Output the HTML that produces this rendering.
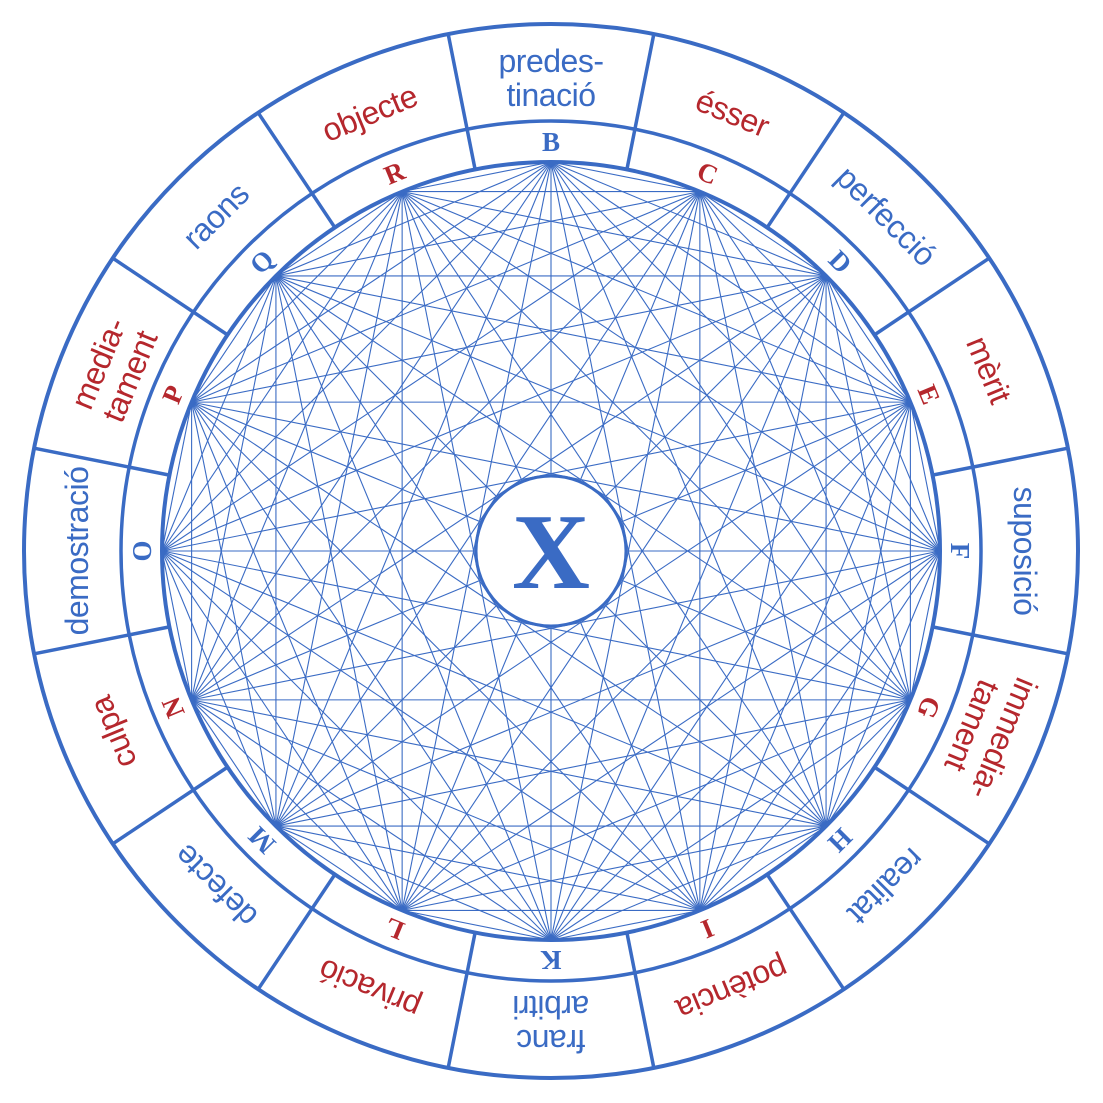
<!DOCTYPE html>
<html><head><meta charset="utf-8"><style>
html,body{margin:0;padding:0;background:#fff;}
svg{display:block}
.w{font-family:"Liberation Sans",sans-serif;font-size:32px;text-anchor:middle;letter-spacing:-0.5px}
.l{font-family:"Liberation Serif",serif;font-weight:bold;font-size:27px;text-anchor:middle}
.b{fill:#3a6bc4}.r{fill:#b5272d}
</style></head><body>
<svg id="s" width="1103" height="1103" viewBox="0 0 1103 1103">
<g id="lines" stroke="#3a6bc4" stroke-width="1.1" fill="none"></g>
<circle cx="551" cy="551" r="527" fill="none" stroke="#3a6bc4" stroke-width="4"/>
<circle cx="551" cy="551" r="430" fill="none" stroke="#3a6bc4" stroke-width="3.5"/>
<circle cx="551" cy="551" r="389" fill="none" stroke="#3a6bc4" stroke-width="4"/>
<g id="div" stroke="#3a6bc4" stroke-width="3.5"></g>
<circle cx="551" cy="551" r="75" fill="#fff" stroke="#3a6bc4" stroke-width="3"/>
<text x="551" y="588" font-family="Liberation Serif,serif" font-weight="bold" font-size="108" text-anchor="middle" fill="#3a6bc4">X</text>

<g class="w">
<text class="b" transform="rotate(0 551 551)"><tspan x="551" y="72">predes-</tspan><tspan x="551" y="106">tinació</tspan></text>
<text class="r" x="551" y="88" transform="rotate(22.5 551 551)">ésser</text>
<text class="b" x="551" y="88" transform="rotate(45 551 551)">perfecció</text>
<text class="r" x="551" y="88" transform="rotate(67.5 551 551)">mèrit</text>
<text class="b" x="551" y="88" transform="rotate(90 551 551)">suposició</text>
<text class="r" transform="rotate(112.5 551 551)"><tspan x="551" y="72">immedia-</tspan><tspan x="551" y="106">tament</tspan></text>
<text class="b" x="551" y="88" transform="rotate(135 551 551)">realitat</text>
<text class="r" x="551" y="88" transform="rotate(157.5 551 551)">potència</text>
<text class="b" transform="rotate(180 551 551)"><tspan x="551" y="72">franc</tspan><tspan x="551" y="106">arbitri</tspan></text>
<text class="r" x="551" y="88" transform="rotate(202.5 551 551)">privació</text>
<text class="b" x="551" y="88" transform="rotate(225 551 551)">defecte</text>
<text class="r" x="551" y="88" transform="rotate(247.5 551 551)">culpa</text>
<text class="b" x="551" y="88" transform="rotate(270 551 551)">demostració</text>
<text class="r" transform="rotate(292.5 551 551)"><tspan x="551" y="72">media-</tspan><tspan x="551" y="106">tament</tspan></text>
<text class="b" x="551" y="88" transform="rotate(315 551 551)">raons</text>
<text class="r" x="551" y="88" transform="rotate(337.5 551 551)">objecte</text>
</g>
<g class="l">
<text class="b" x="551" y="151" transform="rotate(0 551 551)">B</text>
<text class="r" x="551" y="151" transform="rotate(22.5 551 551)">C</text>
<text class="b" x="551" y="151" transform="rotate(45 551 551)">D</text>
<text class="r" x="551" y="151" transform="rotate(67.5 551 551)">E</text>
<text class="b" x="551" y="151" transform="rotate(90 551 551)">F</text>
<text class="r" x="551" y="151" transform="rotate(112.5 551 551)">G</text>
<text class="b" x="551" y="151" transform="rotate(135 551 551)">H</text>
<text class="r" x="551" y="151" transform="rotate(157.5 551 551)">I</text>
<text class="b" x="551" y="151" transform="rotate(180 551 551)">K</text>
<text class="r" x="551" y="151" transform="rotate(202.5 551 551)">L</text>
<text class="b" x="551" y="151" transform="rotate(225 551 551)">M</text>
<text class="r" x="551" y="151" transform="rotate(247.5 551 551)">N</text>
<text class="b" x="551" y="151" transform="rotate(270 551 551)">O</text>
<text class="r" x="551" y="151" transform="rotate(292.5 551 551)">P</text>
<text class="b" x="551" y="151" transform="rotate(315 551 551)">Q</text>
<text class="r" x="551" y="151" transform="rotate(337.5 551 551)">R</text>
</g>
</svg>
<script>
var ns="http://www.w3.org/2000/svg",cx=551,cy=551,R=389,P=[];
for(var i=0;i<16;i++){var a=(i*22.5-90)*Math.PI/180;P.push([cx+R*Math.cos(a),cy+R*Math.sin(a)]);}
var g=document.getElementById("lines");
for(var i=0;i<16;i++)for(var j=i+1;j<16;j++){var l=document.createElementNS(ns,"line");
l.setAttribute("x1",P[i][0]);l.setAttribute("y1",P[i][1]);l.setAttribute("x2",P[j][0]);l.setAttribute("y2",P[j][1]);g.appendChild(l);}
var d=document.getElementById("div");
for(var i=0;i<16;i++){var a=(i*22.5+11.25-90)*Math.PI/180;var l=document.createElementNS(ns,"line");
l.setAttribute("x1",cx+R*Math.cos(a));l.setAttribute("y1",cy+R*Math.sin(a));l.setAttribute("x2",cx+527*Math.cos(a));l.setAttribute("y2",cy+527*Math.sin(a));d.appendChild(l);}
</script>
</body></html>
